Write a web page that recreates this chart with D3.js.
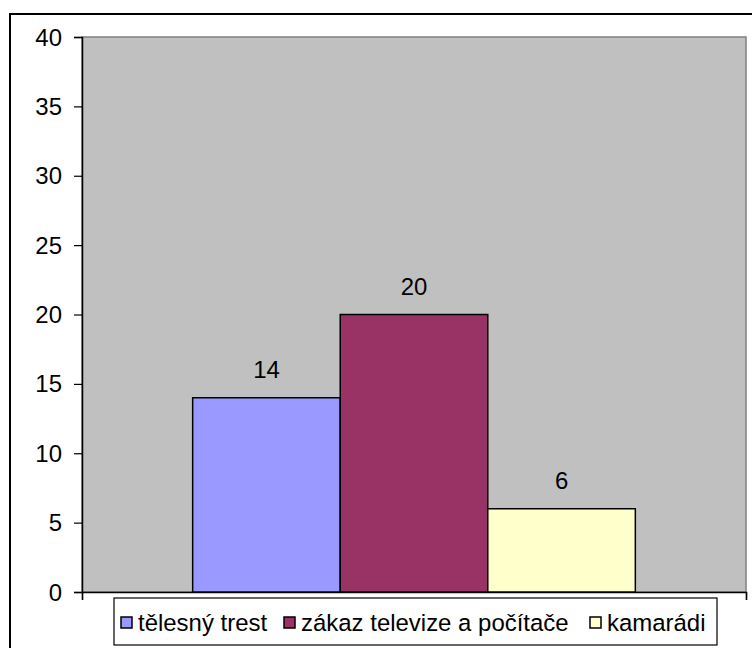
<!DOCTYPE html>
<html>
<head>
<meta charset="utf-8">
<script src="https://cdn.jsdelivr.net/npm/d3@7"></script>
<style>
  body { margin: 0; background: #fff; }
  svg text { font-family: "Liberation Sans", Arial, sans-serif; fill: #000; }
</style>
</head>
<body>
<svg id="chart"></svg>
<script>
// data
const seriesNames = ["tělesný trest", "zákaz televize a počítače", "kamarádi"];
const seriesValues = [14, 20, 6];
const seriesColors = ["#9999FF", "#993366", "#FFFFCC"];
const yTicks = [0, 5, 10, 15, 20, 25, 30, 35, 40];

const W = 752, H = 648;
const svg = d3.select("#chart").attr("width", W).attr("height", H);

// outer frame (right / bottom edges run off the picture)
svg.append("rect")
    .attr("x", 10).attr("y", 14)
    .attr("width", 760).attr("height", 660)
    .attr("fill", "#fff").attr("stroke", "#000").attr("stroke-width", 2);

const plot = {left: 82, right: 746, top: 37, bottom: 592};
const fontSize = 23.5, sx = 1.02;

const y = d3.scaleLinear().domain([0, 40]).range([plot.bottom, plot.top]);
// gap width 150%: bar group = 3 bars, gap = 1.5 bars
const groupW = (plot.right - plot.left) * 3 / 4.5;
const x = d3.scaleBand().domain(seriesNames)
    .range([plot.left + (plot.right - plot.left - groupW) / 2, plot.left + (plot.right - plot.left + groupW) / 2])
    .padding(0);

function stretchText(sel, tx, ty, anchor, txt) {
    return sel.append("text")
        .attr("transform", `translate(${tx},${ty}) scale(${sx},1)`)
        .attr("text-anchor", anchor)
        .style("font-size", fontSize + "px")
        .text(txt);
}

// plot area
svg.append("rect")
    .attr("x", plot.left).attr("y", plot.top)
    .attr("width", plot.right - plot.left).attr("height", plot.bottom - plot.top)
    .attr("fill", "#C0C0C0").attr("stroke", "#808080").attr("stroke-width", 1.5);

// y axis
const yAxis = svg.append("g").attr("transform", `translate(${plot.left},0)`)
    .call(d3.axisLeft(y).tickValues(yTicks).tickSize(8).tickFormat(""));
yAxis.select(".domain").attr("stroke", "#000").attr("stroke-width", 1.5);
yAxis.selectAll(".tick line").attr("stroke", "#000").attr("stroke-width", 1.2);
yTicks.forEach(t => stretchText(svg, 62, y(t) + 8.5, "end", t));

// x axis
const xAxis = svg.append("g").attr("transform", `translate(0,${plot.bottom})`)
    .call(d3.axisBottom(d3.scaleLinear().domain([0, 1]).range([plot.left, plot.right]))
        .tickValues([0, 1]).tickSize(8).tickFormat(""));
xAxis.select(".domain").attr("stroke", "#000").attr("stroke-width", 1.5);
xAxis.selectAll(".tick line").attr("stroke", "#000").attr("stroke-width", 1.2);

// bars
svg.append("g").selectAll("rect")
    .data(seriesNames)
    .join("rect")
    .attr("x", d => x(d))
    .attr("y", (d, i) => y(seriesValues[i]))
    .attr("width", x.bandwidth())
    .attr("height", (d, i) => plot.bottom - y(seriesValues[i]))
    .attr("fill", (d, i) => seriesColors[i])
    .attr("stroke", "#000").attr("stroke-width", 1.5);

seriesNames.forEach((d, i) => {
    stretchText(svg, x(d) + x.bandwidth() / 2, y(seriesValues[i]) - 19.5, "middle", seriesValues[i]);
});

// legend
const leg = {x: 114, y: 598, w: 603, h: 47};
svg.append("rect")
    .attr("x", leg.x).attr("y", leg.y).attr("width", leg.w).attr("height", leg.h)
    .attr("fill", "#fff").attr("stroke", "#000").attr("stroke-width", 1.2);
const legX = [121, 284, 590];
seriesNames.forEach((d, i) => {
    svg.append("rect")
        .attr("x", legX[i]).attr("y", 617).attr("width", 11).attr("height", 11)
        .attr("fill", seriesColors[i]).attr("stroke", "#000").attr("stroke-width", 1.5);
    stretchText(svg, legX[i] + 17, 631, "start", d);
});
</script>
</body>
</html>
